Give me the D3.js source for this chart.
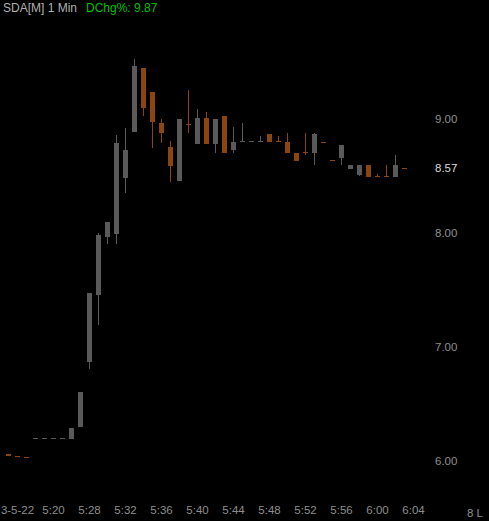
<!DOCTYPE html>
<html>
<head>
<meta charset="utf-8">
<script src="https://cdn.jsdelivr.net/npm/d3@7"></script>
<style>
  html, body { margin: 0; padding: 0; background: #000; }
  svg { display: block; }
</style>
</head>
<body>
<svg id="chart" width="489" height="521"></svg>
<script>
// ---- data ----
const times = ["5:09","5:12","5:15","5:17","5:18","5:20","5:22","5:25","5:27","5:28",
  "5:29","5:30","5:31","5:32","5:33","5:34","5:35","5:36","5:37","5:38","5:39","5:40",
  "5:41","5:42","5:43","5:44","5:45","5:46","5:47","5:48","5:49","5:50","5:51","5:52",
  "5:53","5:54","5:55","5:56","5:57","5:58","5:59","6:00","6:01","6:02","6:03","6:04"];
const opens  = [6.058,6.04,6.035,6.195,6.195,6.195,6.195,6.19,6.30,6.87,7.46,7.97,7.99,8.48,8.89,9.45,9.24,8.97,8.76,8.46,8.96,8.78,9.01,8.78,9.03,8.73,8.80,8.805,8.805,8.87,8.81,8.80,8.70,8.715,8.70,8.80,8.64,8.66,8.56,8.51,8.60,8.50,8.50,8.49,8.575];
const highs  = [6.058,6.04,6.035,6.20,6.20,6.20,6.20,6.29,6.60,7.47,8.00,8.10,8.86,8.92,9.53,9.45,9.24,9.00,8.81,9.00,9.26,9.09,9.06,9.00,9.03,8.93,8.97,8.81,8.85,8.87,8.85,8.88,8.70,8.88,8.88,8.80,8.64,8.77,8.60,8.60,8.60,8.52,8.60,8.69,8.575];
const lows   = [6.04,6.035,6.03,6.195,6.195,6.195,6.195,6.19,6.30,6.81,7.19,7.90,7.90,8.35,8.89,9.03,8.75,8.79,8.45,8.46,8.88,8.78,8.78,8.70,8.70,8.70,8.80,8.805,8.805,8.80,8.805,8.70,8.63,8.69,8.60,8.795,8.635,8.60,8.56,8.50,8.49,8.495,8.495,8.49,8.57];
const closes = [6.04,6.035,6.03,6.20,6.20,6.20,6.20,6.29,6.60,7.47,7.98,8.10,8.79,8.73,9.47,9.10,8.98,8.88,8.59,9.00,8.955,9.01,8.78,9.00,8.70,8.80,8.805,8.81,8.81,8.80,8.805,8.70,8.63,8.71,8.87,8.795,8.635,8.77,8.60,8.60,8.49,8.495,8.495,8.60,8.57];
const xTickValues = ["5:12","5:20","5:28","5:32","5:36","5:40","5:44","5:48","5:52","5:56","6:00","6:04"];
const xTickLabels = ["3-5-22","5:20","5:28","5:32","5:36","5:40","5:44","5:48","5:52","5:56","6:00","6:04"];
const yTicks = [6, 7, 8, 9];
const lastPrice = 8.57;
const title = "SDA[M] 1 Min";
const changeText = "DChg%: 9.87";
const volumeLabel = "8 L";

// ---- drawing ----
const svg = d3.select("#chart");
const W = 489, H = 521;
svg.append("rect").attr("width", W).attr("height", H).attr("fill", "#000");

const x = d3.scaleBand().domain(times).range([4, 4 + 9 * times.length]).padding(0);
const y = d3.scaleLinear().domain([6, 9]).range([460.7, 119.3]);

const UP = "#5a5a5a", DOWN = "#8a4510";
const bars = opens.map((o, i) => ({t: times[i], o, h: highs[i], l: lows[i], c: closes[i]}));

const g = svg.append("g");
bars.forEach(d => {
  const col = d.c >= d.o ? UP : DOWN;
  const xi = x(d.t);
  const yh = Math.round(y(d.h)), yl = Math.round(y(d.l));
  if (yl - yh > 0) {
    g.append("rect").attr("x", xi + 4).attr("y", yh).attr("width", 1)
      .attr("height", yl - yh).attr("fill", col);
  }
  const top = Math.round(y(Math.max(d.o, d.c)));
  const bot = Math.round(y(Math.min(d.o, d.c)));
  g.append("rect").attr("x", xi + 2).attr("y", top).attr("width", 5)
    .attr("height", Math.max(1, bot - top)).attr("fill", col);
});

const font = "'Liberation Sans', Arial, sans-serif";

// right axis
const yAxis = d3.axisRight(y).tickValues(yTicks).tickSize(0).tickPadding(0)
  .tickFormat(d3.format(".2f"));
const ya = svg.append("g").attr("transform", "translate(435,0)").call(yAxis);
ya.select(".domain").remove();
ya.selectAll("text").attr("fill", "#8e8e8e").style("font-family", font).style("font-size", "11.5px");

svg.append("text").attr("x", 435).attr("y", y(lastPrice)).attr("dy", "0.32em")
  .attr("fill", "#d8d8d8").style("font-family", font).style("font-size", "11.5px")
  .text(d3.format(".2f")(lastPrice));

// bottom axis
const labelMap = new Map(xTickValues.map((v, i) => [v, xTickLabels[i]]));
const xAxis = d3.axisBottom(x).tickValues(xTickValues).tickSize(0).tickPadding(0)
  .tickFormat(v => labelMap.get(v));
const xa = svg.append("g").attr("transform", "translate(0,506)").call(xAxis);
xa.select(".domain").remove();
xa.selectAll("text").attr("fill", "#8e8e8e").style("font-family", font).style("font-size", "11.5px");

svg.append("text").attr("x", 483).attr("y", 517).attr("text-anchor", "end")
  .attr("fill", "#8e8e8e").style("font-family", font).style("font-size", "11.5px")
  .text(volumeLabel);

// header
const hdr = svg.append("text").attr("x", 3).attr("y", 12)
  .style("font-family", font).style("font-size", "12px");
hdr.append("tspan").attr("fill", "#b0b0b0").text(title);
hdr.append("tspan").attr("x", 86).attr("fill", "#00c000").text(changeText);
</script>
</body>
</html>
